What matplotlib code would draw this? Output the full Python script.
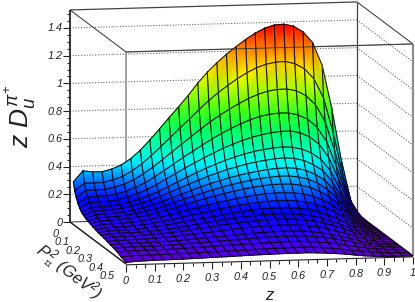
import numpy as np
import matplotlib
matplotlib.use("Agg")
import matplotlib.pyplot as plt
from matplotlib.colors import LinearSegmentedColormap, Normalize
from matplotlib.lines import Line2D

plt.rcParams['font.family'] = ['Liberation Sans']
plt.rcParams['font.style'] = 'italic'
plt.rcParams['mathtext.fontset'] = 'custom'
plt.rcParams['mathtext.it'] = 'Liberation Sans:italic'
plt.rcParams['mathtext.rm'] = 'Liberation Sans:italic'

# surface values (thousandths); rows run along P_perp^2, columns along z in 30 steps
row00 = [307,385,376,375,392,420,464,523,595,672,752,828,908,995,1072,1138,1197,1250,1300,1344,1378,1399,1403,1387,1344,1265,1100,790,415,115,0]
row01 = [250,303,303,306,321,345,383,431,489,552,617,682,746,812,874,930,980,1027,1068,1102,1125,1139,1141,1124,1085,1010,870,620,315,90,0]
row02 = [212,260,260,263,276,297,327,366,414,466,520,573,626,679,729,775,816,855,890,918,939,949,951,936,900,832,710,495,250,70,0]
row03 = [177,220,223,226,236,255,280,312,352,396,442,487,530,573,615,652,687,718,746,767,781,788,787,771,739,678,571,394,197,54,0]
row04 = [152,190,193,196,206,223,245,272,306,344,382,420,456,491,524,556,583,608,629,646,658,666,667,652,622,567,471,319,152,41,0]
row05 = [131,165,169,173,182,196,215,239,267,299,331,364,395,425,453,478,501,520,537,549,558,564,560,545,516,467,384,248,114,30,0]
row06 = [121,150,154,158,165,180,196,217,242,270,298,325,352,378,401,423,441,459,472,483,491,496,490,474,441,397,312,198,87,23,0]
row07 = [110,136,140,143,149,161,177,196,217,242,266,291,314,337,356,375,391,405,417,427,433,436,430,413,382,337,262,161,69,18,0]
row08 = [103,125,128,132,138,149,163,179,199,220,242,263,284,303,321,338,352,365,376,384,389,389,380,362,331,285,222,133,55,13,0]
row09 = [96,116,119,122,128,137,149,164,181,199,218,237,255,272,288,303,316,328,337,343,345,343,333,315,283,243,182,107,44,10,0]
row10 = [89,105,107,109,114,122,132,145,160,175,192,207,223,238,251,264,275,284,292,296,297,293,283,266,237,200,146,85,34,8,0]
row11 = [83,94,97,98,103,109,118,129,140,154,168,180,194,207,219,229,238,246,252,254,254,249,239,222,195,162,118,66,29,6,0]
row12 = [76,87,89,90,94,100,107,117,127,137,148,158,170,180,190,199,207,213,216,218,216,210,200,184,156,128,95,49,23,6,0]
row13 = [72,81,83,84,87,92,97,104,112,122,132,142,152,161,170,177,184,188,190,190,188,180,170,153,130,105,75,39,18,5,0]
row14 = [68,76,77,78,81,85,89,95,102,111,119,127,136,144,152,158,163,167,169,170,167,159,149,132,111,89,62,32,14,4,0]
row15 = [61,67,68,70,72,75,79,84,90,96,103,109,117,124,130,134,139,142,144,144,141,133,124,108,90,70,47,25,9,2,0]
row16 = [54,60,61,62,64,65,68,71,76,81,86,90,95,100,105,110,113,116,118,118,116,108,98,86,70,53,34,18,7,2,0]
row17 = [48,53,54,55,55,57,60,63,67,70,74,78,82,86,90,94,97,99,100,100,98,91,84,72,58,44,29,14,6,2,0]
row18 = [39,45,45,46,47,48,50,53,56,58,61,64,66,69,72,74,76,78,80,80,76,71,64,54,42,30,20,10,4,1,0]
row19 = [25,32,33,34,35,36,37,39,41,42,44,46,48,50,52,54,56,57,59,60,57,52,46,37,28,20,12,6,2,1,0]
row20 = [11,17,19,21,22,23,24,26,28,30,32,33,36,38,40,41,43,44,44,45,42,38,33,27,18,11,6,3,1,1,0]

rows = [row00,row01,row02,row03,row04,row05,row06,row07,row08,row09,row10,
        row11,row12,row13,row14,row15,row16,row17,row18,row19,row20]
V = np.array(rows, dtype=float) / 1000.0
z_nodes = np.linspace(0, 1, V.shape[1])
p_nodes = np.array([0.03,0.0425,0.056,0.071,0.087,0.104,0.122,0.141,0.161,0.182,0.205,
                    0.228,0.253,0.278,0.305,0.333,0.362,0.392,0.423,0.458,0.5])

v_major = [0, 0.2, 0.4, 0.6, 0.8, 1, 1.2, 1.4]
v_labels = ['0', '0.2', '0.4', '0.6', '0.8', '1', '1.2', '1.4']
z_major = [0, 0.1, 0.2, 0.3, 0.4, 0.5, 0.6, 0.7, 0.8, 0.9, 1]
z_labels = ['0', '0.1', '0.2', '0.3', '0.4', '0.5', '0.6', '0.7', '0.8', '0.9', '1']
p_major = [0, 0.1, 0.2, 0.3, 0.4, 0.5]
p_labels = ['0', '0.1', '0.2', '0.3', '0.4', '0.5']
V_TOP = 1.53


def proj(z, p, v):
    z, p, v = np.asarray(z, float), np.asarray(p, float), np.asarray(v, float)
    return 70 + 287 * z + 112 * p, 222 - 8 * z + 84 * p - 138.6 * v


cmap = LinearSegmentedColormap.from_list('rb', [
    (0.0, (0.36, 0.0, 0.68)),
    (0.03 / 1.4, (0.36, 0.0, 0.88)),
    (0.1 / 1.4, (0.18, 0.0, 1.0)),
    (0.2 / 1.4, (0.0, 0.0, 1.0)),
    (0.45 / 1.4, (0.0, 1.0, 1.0)),
    (0.70 / 1.4, (0.0, 1.0, 0.30)),
    (0.85 / 1.4, (0.35, 1.0, 0.0)),
    (1.05 / 1.4, (1.0, 1.0, 0.0)),
    (1.22 / 1.4, (1.0, 0.6, 0.0)),
    (1.0, (1.0, 0.0, 0.0)),
])
norm = Normalize(0, 1.4)

fig = plt.figure(figsize=(4.15, 3.02), dpi=100)
ax = fig.add_axes([0, 0, 1, 1])
ax.set_xlim(0, 415)
ax.set_ylim(302, 0)
ax.axis('off')
ax.set_autoscale_on(False)


def seg(a, b, color='k', lw=0.8, ls='-', zo=1):
    xa, ya = proj(*a)
    xb, yb = proj(*b)
    ax.plot([xa, xb], [ya, yb], color=color, lw=lw, ls=ls, zorder=zo, solid_capstyle='butt')


# back grid lines
for val in v_major[1:]:
    seg((0, 0, val), (1, 0, val), color='#666666', lw=0.8, ls=(0, (1, 1.5)))
    seg((1, 0, val), (1, 0.5, val), color='#666666', lw=0.8, ls=(0, (1, 1.5)))

# box behind the surface
seg((0, 0, V_TOP), (1, 0, V_TOP), color='#444444', lw=0.9)
seg((0, 0, V_TOP), (0, 0.5, V_TOP), color='#444444', lw=0.8)
seg((1, 0, V_TOP), (1, 0.5, V_TOP), color='#444444', lw=0.8)
seg((1, 0, 0), (1, 0, V_TOP), color='#444444', lw=0.9)
seg((0, 0.5, 0), (0, 0.5, V_TOP), color='#909090', lw=1.2)
seg((1, 0.5, 0), (1, 0.5, V_TOP), color='#909090', lw=1.6)
seg((0, 0.5, V_TOP), (1, 0.5, V_TOP), color='#909090', lw=1.0)
seg((0, 0, 0), (1, 0, 0), color='#444444', lw=0.8)
seg((1, 0, 0), (1, 0.5, 0), color='#909090', lw=1.6)
seg((1, 0, 0), (1, 0.5, 0), color='#333333', lw=0.6)
seg((0, 0, 0), (0, 0.5, 0), color='#222222', lw=1.1)

# surface, painted from the far side to the near side
ZZ, PP = np.meshgrid(z_nodes, p_nodes)
X, Y = proj(ZZ, PP, V)
for i in range(V.shape[0] - 1):
    for j in range(V.shape[1] - 2, -1, -1):
        xc = X[i:i + 2, j:j + 2]
        yc = Y[i:i + 2, j:j + 2]
        ax.pcolormesh(xc, yc, V[i:i + 2, j:j + 2], shading='gouraud', cmap=cmap, norm=norm, zorder=3)
        ax.add_line(Line2D([xc[0, 0], xc[0, 1], xc[1, 1], xc[1, 0], xc[0, 0]],
                           [yc[0, 0], yc[0, 1], yc[1, 1], yc[1, 0], yc[0, 0]],
                           color='k', lw=0.75, alpha=0.9, zorder=3))

# box edge over the surface
seg((0, 0.5, V_TOP), (1, 0.5, V_TOP), color='#333333', lw=0.6, zo=5)

# axes
seg((0, 0, 0), (0, 0, V_TOP), color='k', lw=1.1, zo=6)
seg((0, 0.5, -0.006), (1, 0.5, -0.006), color='#222222', lw=0.8, zo=6)

for val in np.arange(0, 1.5001, 0.05):
    is_major = abs(val / 0.2 - round(val / 0.2)) < 1e-6
    xa, ya = proj(0, 0, val)
    ax.plot([xa - (7 if is_major else 3.5), xa], [ya, ya], color='#222222', lw=0.8, zorder=6, solid_capstyle='butt')
for val, lab in zip(v_major, v_labels):
    xa, ya = proj(0, 0, val)
    ax.text(xa - 7.5, ya + 0.5, lab, ha='right', va='center', fontsize=7.8, color='#222222')

for k in range(31):
    val = k / 30
    xa, ya = proj(val, 0.5, -0.006)
    ax.plot([xa, xa], [ya, ya + (7 if k % 3 == 0 else 3.5)], color='#222222', lw=0.8, zorder=6, solid_capstyle='butt')
for val, lab in zip(z_major, z_labels):
    xa, ya = proj(val, 0.5, 0)
    ax.text(xa, ya + 16.5, lab, ha='center', va='center', fontsize=7.8, color='#222222')

for val, lab in zip(p_major, p_labels):
    xa, ya = proj(0, val, 0)
    ax.text(xa - 11.5, ya + 12, lab, ha='right', va='center', fontsize=7.8, color='#222222')

ax.text(270, 296, '$z$', ha='center', va='center', fontsize=12, color='#222222')
ax.text(68, 272, r'$P_{\perp}^{2}$ (GeV$^{2}$)', ha='center', va='center', rotation=-38,
        rotation_mode='anchor', fontsize=12, color='#222222')
ax.text(20, 116, r'$z\ D_{u}^{\pi^{+}}$', ha='center', va='center', rotation=90, fontsize=19, color='#222222')

fig.savefig('out.png', dpi=100)
